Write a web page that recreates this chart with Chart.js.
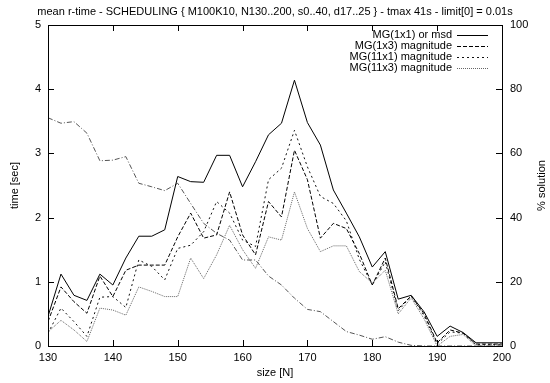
<!DOCTYPE html>
<html>
<head>
<meta charset="utf-8">
<script src="https://cdn.jsdelivr.net/npm/chart.js@4"></script>
<style>
  body { margin: 0; background: #fff; }
  #wrap { width: 550px; height: 383px; }
</style>
</head>
<body>
<div id="wrap"><canvas id="lineChart" width="550" height="383"></canvas></div>
<script>
// data
const sizes = [130, 132, 134, 136, 138, 140, 142, 144, 146, 148, 150, 152, 154, 156, 158, 160, 162, 164,
  166, 168, 170, 172, 174, 176, 178, 180, 182, 184, 186, 188, 190, 192, 194, 196, 198, 200];

const mg1x1 = [0.46, 1.12, 0.79, 0.71, 1.12, 0.95, 1.37, 1.71, 1.71, 1.81, 2.64, 2.56, 2.55, 2.97, 2.97, 2.48, 2.87, 3.29,
  3.47, 4.14, 3.48, 3.13, 2.43, 2.07, 1.70, 1.23, 1.47, 0.73, 0.79, 0.53, 0.15, 0.31, 0.21, 0.05, 0.05, 0.05];
const mg1x3 = [0.38, 0.92, 0.69, 0.51, 1.09, 0.77, 1.18, 1.26, 1.26, 1.26, 1.70, 2.07, 1.68, 1.73, 2.40, 1.73, 1.42, 2.25,
  2.01, 3.05, 2.59, 1.68, 1.91, 1.83, 1.44, 0.95, 1.37, 0.58, 0.78, 0.50, 0.05, 0.25, 0.20, 0.03, 0.03, 0.03];
const mg11x1 = [0.20, 0.59, 0.38, 0.15, 0.76, 0.77, 0.60, 1.34, 1.24, 1.03, 1.52, 1.57, 1.78, 2.25, 2.07, 1.65, 1.55, 2.59,
  2.77, 3.36, 2.79, 2.33, 2.22, 1.95, 1.35, 0.95, 1.31, 0.55, 0.78, 0.47, 0.03, 0.22, 0.20, 0.02, 0.02, 0.02];
const mg11x3 = [0.22, 0.40, 0.25, 0.07, 0.59, 0.56, 0.48, 0.92, 0.85, 0.77, 0.77, 1.37, 1.05, 1.42, 1.88, 1.50, 1.21, 1.70,
  1.65, 2.40, 1.83, 1.47, 1.56, 1.56, 1.16, 0.98, 1.18, 0.50, 0.75, 0.42, 0.00, 0.15, 0.18, 0.00, 0.00, 0.00];
const solved = [71.1, 69.4, 69.9, 66.3, 57.7, 57.9, 59.0, 50.7, 49.6, 48.4, 50.7, 44.4, 38.2, 35.1, 33.0, 26.8, 26.8, 21.8,
  19.0, 14.9, 11.4, 10.7, 7.6, 4.5, 3.4, 2.1, 2.9, 1.2, 0.2, 0, 0, 0, 0, 0, 0, 0];

const xTicks = [130, 140, 150, 160, 170, 180, 190, 200];
const yTicks = [0, 1, 2, 3, 4, 5];
const y2Ticks = [0, 20, 40, 60, 80, 100];

const titleText = 'mean r-time - SCHEDULING { M100K10, N130..200, s0..40, d17..25 } - tmax 41s - limit[0] = 0.01s';
const FONT = '"Liberation Sans", Arial, sans-serif';

function pts(values) {
  return sizes.map((s, i) => ({ x: s, y: values[i] }));
}

const legendItems = [
  { label: 'MG(1x1) or msd', color: '#000', dash: [] },
  { label: 'MG(1x3) magnitude', color: '#000', dash: [4, 2] },
  { label: 'MG(11x1) magnitude', color: '#111', dash: [2, 3] },
  { label: 'MG(11x3) magnitude', color: '#666', dash: [1, 1] },
];

// frame, inward ticks, titles and key like gnuplot
const gnuplotDecor = {
  id: 'gnuplotDecor',
  afterDatasetsDraw(chart) {
    const ctx = chart.ctx;
    const a = chart.chartArea;
    const x = chart.scales.x, y = chart.scales.y, y2 = chart.scales.y2;
    ctx.save();
    ctx.strokeStyle = '#000';
    ctx.lineWidth = 1;
    ctx.setLineDash([]);
    ctx.beginPath();
    xTicks.forEach(v => {
      const px = Math.round(x.getPixelForValue(v)) + 0.5;
      ctx.moveTo(px, a.bottom); ctx.lineTo(px, a.bottom - 6);
      ctx.moveTo(px, a.top); ctx.lineTo(px, a.top + 6);
    });
    yTicks.forEach(v => {
      const py = Math.round(y.getPixelForValue(v)) + 0.5;
      ctx.moveTo(a.left, py); ctx.lineTo(a.left + 6, py);
    });
    y2Ticks.forEach(v => {
      const py = Math.round(y2.getPixelForValue(v)) + 0.5;
      ctx.moveTo(a.right, py); ctx.lineTo(a.right - 6, py);
    });
    ctx.stroke();
    ctx.strokeRect(Math.round(a.left) + 0.5, Math.round(a.top) + 0.5,
      Math.round(a.right - a.left), Math.round(a.bottom - a.top));

    ctx.fillStyle = '#000';
    ctx.font = '11px ' + FONT;
    ctx.textAlign = 'center';
    ctx.textBaseline = 'middle';
    ctx.fillText(titleText, (a.left + a.right) / 2, 12);
    ctx.fillText('size [N]', (a.left + a.right) / 2, 373);

    const midY = (a.top + a.bottom) / 2;
    ctx.save();
    ctx.translate(15, midY);
    ctx.rotate(-Math.PI / 2);
    ctx.fillText('time [sec]', 0, 0);
    ctx.restore();
    ctx.save();
    ctx.translate(542, midY);
    ctx.rotate(-Math.PI / 2);
    ctx.fillText('% solution', 0, 0);
    ctx.restore();

    // key
    ctx.textAlign = 'right';
    legendItems.forEach((it, i) => {
      const ly = 35 + i * 11;
      ctx.fillStyle = '#000';
      ctx.fillText(it.label, a.right - 50, ly);
      ctx.strokeStyle = it.color;
      ctx.setLineDash(it.dash);
      ctx.beginPath();
      ctx.moveTo(a.right - 45, Math.round(ly) + 0.5);
      ctx.lineTo(a.right - 14, Math.round(ly) + 0.5);
      ctx.stroke();
    });
    ctx.restore();
  }
};

const data = {
  datasets: [
    { label: 'MG(1x1) or msd', data: pts(mg1x1), yAxisID: 'y', borderColor: '#000', borderDash: [] },
    { label: 'MG(1x3) magnitude', data: pts(mg1x3), yAxisID: 'y', borderColor: '#000', borderDash: [4, 2] },
    { label: 'MG(11x1) magnitude', data: pts(mg11x1), yAxisID: 'y', borderColor: '#111', borderDash: [2, 3] },
    { label: 'MG(11x3) magnitude', data: pts(mg11x3), yAxisID: 'y', borderColor: '#666', borderDash: [1, 1] },
    { label: '% solution', data: pts(solved), yAxisID: 'y2', borderColor: '#555', borderDash: [5, 2, 1, 2] },
  ]
};
data.datasets.forEach(d => {
  d.borderWidth = 1;
  d.pointRadius = 0;
  d.tension = 0;
  d.fill = false;
});

const config = {
  type: 'line',
  data: data,
  options: {
    responsive: false,
    animation: false,
    layout: { padding: { top: 25, left: 0, right: 0, bottom: 0 } },
    plugins: {
      legend: { display: false },
      tooltip: { enabled: false }
    },
    scales: {
      x: {
        type: 'linear',
        min: 130, max: 200,
        afterFit: s => { s.height = 37; },
        afterBuildTicks: s => { s.ticks = xTicks.map(v => ({ value: v })); },
        grid: { display: false, drawTicks: false },
        border: { display: false },
        ticks: { padding: 5, color: '#000', font: { family: FONT, size: 11 }, maxRotation: 0 }
      },
      y: {
        position: 'left',
        min: 0, max: 5,
        afterFit: s => { s.width = 48; },
        afterBuildTicks: s => { s.ticks = yTicks.map(v => ({ value: v })); },
        grid: { display: false, drawTicks: false },
        border: { display: false },
        ticks: { padding: 7, color: '#000', font: { family: FONT, size: 11 } }
      },
      y2: {
        position: 'right',
        min: 0, max: 100,
        afterFit: s => { s.width = 48; },
        afterBuildTicks: s => { s.ticks = y2Ticks.map(v => ({ value: v })); },
        grid: { display: false, drawTicks: false },
        border: { display: false },
        ticks: { padding: 8, color: '#000', font: { family: FONT, size: 11 } }
      }
    }
  },
  plugins: [gnuplotDecor]
};

var lineChart = document.getElementById('lineChart');
const myLineChart = new Chart(lineChart, config);
</script>
</body>
</html>
